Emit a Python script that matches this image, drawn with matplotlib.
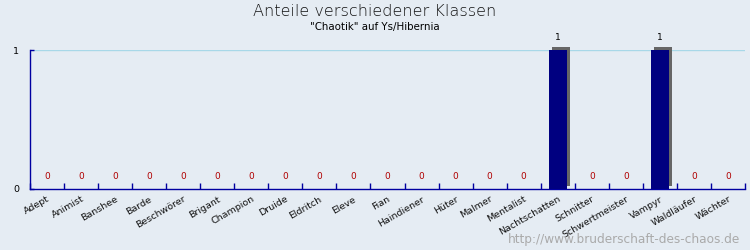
import matplotlib
matplotlib.use("Agg")
import matplotlib.pyplot as plt
import numpy as np
from matplotlib.transforms import ScaledTranslation

categories = ["Adept", "Animist", "Banshee", "Barde", "Beschwörer", "Brigant", "Champion",
              "Druide", "Eldritch", "Eleve", "Fian", "Haindiener", "Hüter", "Malmer",
              "Mentalist", "Nachtschatten", "Schnitter", "Schwertmeister", "Vampyr",
              "Waldläufer", "Wächter"]
values = [0, 0, 0, 0, 0, 0, 0, 0, 0, 0, 0, 0, 0, 0, 0, 1, 0, 0, 1, 0, 0]

bg = "#e5ecf3"
fig = plt.figure(figsize=(7.5, 2.5), dpi=100, facecolor=bg)
ax = fig.add_axes([30/750, 1-189/250, 715/750, 139/250])
ax.set_facecolor(bg)

x = np.arange(len(categories))
w = 0.53
shadow_off = ScaledTranslation(3/100, 3/100, fig.dpi_scale_trans)
shadow = ax.bar(x, values, width=w, color="#666666", zorder=2,
                transform=ax.transData + shadow_off)
for p in shadow:
    p.set_clip_on(False)
ax.bar(x, values, width=w, color="#000080", zorder=3)

ax.set_xlim(-0.5, len(categories) - 0.5)
ax.set_ylim(0, 1)
ax.axhline(1, color="#a8d8e8", lw=1, zorder=1)

for xi, v in zip(x, values):
    if v == 0:
        ax.text(xi, 0.06, str(v), ha="center", va="bottom", fontsize=6.5, color="#b00000")
    else:
        ax.text(xi, v + 0.06, str(v), ha="center", va="bottom", fontsize=6.5, color="black")

ax.set_xticks(np.arange(len(categories) + 1) - 0.5)
ax.set_xticklabels([])
ax.set_xticks(x, minor=True)
ax.set_xticklabels(categories, minor=True, rotation=30, ha="right",
                   rotation_mode="anchor", fontsize=6.8, color="#111111")
lab_off = ScaledTranslation(-3/100, 0, fig.dpi_scale_trans)
for lbl in ax.get_xticklabels(minor=True):
    lbl.set_transform(lbl.get_transform() + lab_off)
ax.tick_params(axis="x", which="major", direction="in", length=4, color="#0000a0", width=1)
ax.tick_params(axis="x", which="minor", length=0, pad=4)
ax.set_yticks([0, 1])
ax.set_yticklabels(["0", "1"], fontsize=6.8)
ax.tick_params(axis="y", direction="in", length=3, color="#0000a0", width=1, pad=8)

for s in ["top", "right"]:
    ax.spines[s].set_visible(False)
for s in ["left", "bottom"]:
    ax.spines[s].set_color("#0000a0")
    ax.spines[s].set_linewidth(1)

fig.text(0.5, 1-11/250, "Anteile verschiedener Klassen", ha="center", va="center",
         fontsize=11.6, color="#111111", fontweight="light")
fig.text(0.5, 1-27/250, "\"Chaotik\" auf Ys/Hibernia", ha="center", va="center",
         fontsize=7.4, color="black")
fig.text(740/750, 1-240/250, "http://www.bruderschaft-des-chaos.de", ha="right", va="center",
         fontsize=8.7, color="#aaaaaa")

fig.savefig("out.png", dpi=100, facecolor=bg)
